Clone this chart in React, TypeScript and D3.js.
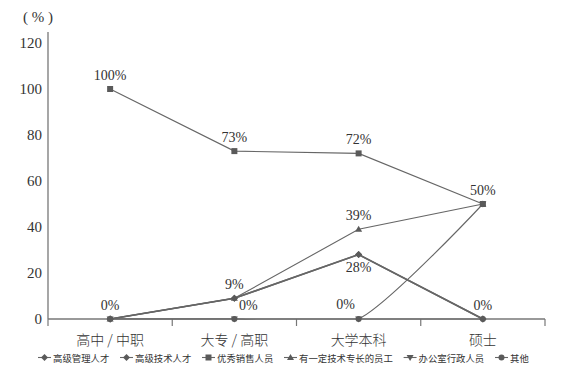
import React from "react";
import * as d3 from "d3";

const categories = ["高中 / 中职", "大专 / 高职", "大学本科", "硕士"];
const seriesNames = ["高级管理人才", "高级技术人才", "优秀销售人员", "有一定技术专长的员工", "办公室行政人员", "其他"];
const mgmt = [0, 9, 28, 0];
const tech = [0, 9, 28, 0];
const sales = [100, 73, 72, 50];
const skilled = [0, 9, 39, 50];
const office = [0, 0, 0, 50];
const other = [0, 0, 0, 0];
const yTicks = [0, 20, 40, 60, 80, 100, 120];

// which values get a label: [seriesIndex, categoryIndex, placement]
const labelSpecs: [number, number, string][] = [
  [2, 0, "above"], [2, 1, "above"], [2, 2, "above"], [2, 3, "above"],
  [3, 2, "above"], [0, 2, "below"], [0, 1, "above"], [0, 0, "above"],
  [4, 1, "aboveRight"], [4, 2, "aboveLeft"], [5, 3, "above"],
];

const W = 562, H = 384;
const M = { left: 48, right: 17, top: 43, bottom: 65 };

function Marker({ type, x, y }: { type: string; x: number; y: number }) {
  const c = "#5a5a5a";
  if (type === "diamond") return <path d={`M${x},${y - 3.5}L${x + 3.5},${y}L${x},${y + 3.5}L${x - 3.5},${y}Z`} fill={c} />;
  if (type === "square") return <rect x={x - 3} y={y - 3} width={6} height={6} fill={c} />;
  if (type === "triangle") return <path d={`M${x},${y - 3.5}L${x + 3.5},${y + 2.5}L${x - 3.5},${y + 2.5}Z`} fill={c} />;
  if (type === "down") return <path d={`M${x},${y + 3.5}L${x + 3.5},${y - 2.5}L${x - 3.5},${y - 2.5}Z`} fill={c} />;
  return <circle cx={x} cy={y} r={3} fill={c} />;
}

export default function App() {
  const allSeries = [mgmt, tech, sales, skilled, office, other];
  const markers = ["diamond", "diamond", "square", "triangle", "down", "circle"];
  const widths = [1.6, 1.6, 1.1, 1.1, 1.1, 1.1];
  const x = d3.scaleBand().domain(categories).range([M.left, W - M.right]);
  const y = d3.scaleLinear().domain([0, 120]).range([H - M.bottom, M.top]);
  const cx = (i: number) => (x(categories[i]) as number) + x.bandwidth() / 2;
  const serifStyle = { fontFamily: "Liberation Serif, DejaVu Serif, serif" };
  const cjkStyle = { fontFamily: "Noto Sans CJK SC, sans-serif" };
  const lineStraight = d3.line<number>().x((_, i) => cx(i)).y((d) => y(d));
  const lineSmooth = d3.line<number>().x((_, i) => cx(i)).y((d) => y(d)).curve(d3.curveCardinal.tension(0.3));
  const y0 = y(0);

  // legend layout
  const legFont = 9.4;
  let lx = 38;
  const legendItems = seriesNames.map((n, i) => {
    const item = { n, i, x: lx };
    lx += 15 + n.length * legFont + 10.6;
    return item;
  });

  return (
    <svg width={W} height={H} style={{ position: "absolute", left: 0, top: 0, background: "#fff" }}>
      <defs>
        <clipPath id="plotclip">
          <rect x={M.left} y={0} width={W - M.left} height={y0 + 0.6} />
        </clipPath>
      </defs>
      <text x={23} y={22} style={serifStyle} fontSize={15} fill="#333">( % )</text>
      {yTicks.map((t) => (
        <text key={t} x={42} y={y(t) + 5} textAnchor="end" style={serifStyle} fontSize={15} fill="#333">{t}</text>
      ))}
      <line x1={M.left} x2={M.left} y1={32} y2={y0} stroke="#777" strokeWidth={1.3} />
      <line x1={M.left} x2={W - M.right} y1={y0} y2={y0} stroke="#777" strokeWidth={1.3} />
      {categories.map((c) => {
        const xr = (x(c) as number) + x.bandwidth();
        return <line key={c} x1={xr} x2={xr} y1={y0} y2={y0 + 7} stroke="#777" strokeWidth={1.2} />;
      })}
      <line x1={M.left} x2={M.left} y1={y0} y2={y0 + 7} stroke="#777" strokeWidth={1.2} />
      {categories.map((c, i) => (
        <text key={c} x={cx(i)} y={345} textAnchor="middle" style={cjkStyle} fontSize={14} fontWeight={300} fill="#333">{c}</text>
      ))}
      {allSeries.map((s, si) => (
        <path key={si} d={(si === 4 ? lineSmooth : lineStraight)(s) as string} fill="none" stroke="#666" strokeWidth={widths[si]} clipPath={si === 4 ? "url(#plotclip)" : undefined} />
      ))}
      {allSeries.map((s, si) => s.map((v, i) => <Marker key={si + "-" + i} type={markers[si]} x={cx(i)} y={y(v)} />))}
      {labelSpecs.map(([si, ci, pl], k) => {
        const v = allSeries[si][ci];
        let lxp = cx(ci), lyp = y(v) - 9;
        if (pl === "below") lyp = y(v) + 17;
        if (pl === "aboveRight") { lxp += 14; lyp = y(v) - 9; }
        if (pl === "aboveLeft") { lxp -= 13; lyp = y(v) - 10; }
        return (
          <text key={k} x={lxp} y={lyp} textAnchor="middle" style={serifStyle} fontSize={14} fill="#333">{v}%</text>
        );
      })}
      {legendItems.map(({ n, i, x: ix }) => (
        <g key={n}>
          <line x1={ix} x2={ix + 13} y1={357.5} y2={357.5} stroke="#666" strokeWidth={1.1} />
          <Marker type={markers[i]} x={ix + 6.5} y={357.5} />
          <text x={ix + 15} y={361.5} style={cjkStyle} fontSize={legFont} fill="#333">{n}</text>
        </g>
      ))}
    </svg>
  );
}
